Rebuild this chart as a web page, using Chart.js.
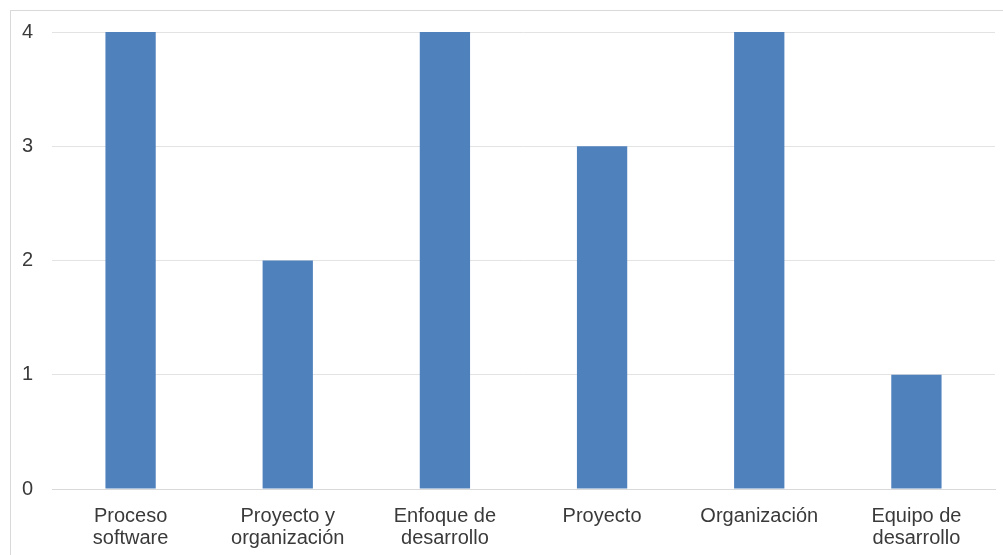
<!DOCTYPE html>
<html>
<head>
<meta charset="utf-8">
<script src="https://cdn.jsdelivr.net/npm/chart.js"></script>
<style>
  html, body { margin: 0; padding: 0; background: #fff; }
  #wrap { position: relative; width: 1003px; height: 555px; overflow: hidden; }
  #frame { position: absolute; left: 10px; top: 10px; width: 1010px; height: 560px; border: 1px solid #d9d9d9; box-sizing: border-box; }
  canvas { position: absolute; left: 0; top: 0; }
</style>
</head>
<body>
<div id="wrap">
  <div id="frame"></div>
  <canvas id="chart" width="1003" height="555"></canvas>
</div>
<script>
// categories and counts
const categories = [
  ['Proceso', 'software'],
  ['Proyecto y', 'organización'],
  ['Enfoque de', 'desarrollo'],
  'Proyecto',
  'Organización',
  ['Equipo de', 'desarrollo']
];
const counts = [4, 2, 4, 3, 4, 1];
const yTicks = [0, 1, 2, 3, 4];

const ctx = document.getElementById('chart').getContext('2d');
new Chart(ctx, {
  type: 'bar',
  data: {
    labels: categories,
    datasets: [{
      data: counts,
      backgroundColor: '#4f81bd',
      borderWidth: 0,
      categoryPercentage: 1,
      barPercentage: 0.32
    }]
  },
  options: {
    responsive: false,
    animation: false,
    layout: { padding: { top: 32, right: 8, left: 0, bottom: 0 } },
    plugins: { legend: { display: false }, tooltip: { enabled: false } },
    scales: {
      x: {
        grid: { display: false, drawTicks: false },
        border: { color: '#d9d9d9', width: 1 },
        ticks: {
          color: '#3a3a3a',
          font: { family: 'Liberation Sans, Arial, sans-serif', size: 20, lineHeight: 1.08 },
          padding: 17,
          maxRotation: 0,
          autoSkip: false
        },
        afterFit: (s) => { s.height = 66; }
      },
      y: {
        min: 0,
        max: 4,
        afterBuildTicks: (s) => { s.ticks = yTicks.map(v => ({ value: v })); },
        grid: { color: '#e3e3e3', drawTicks: false },
        border: { display: false },
        ticks: {
          color: '#3a3a3a',
          font: { family: 'Liberation Sans, Arial, sans-serif', size: 20 },
          padding: 19
        },
        afterFit: (s) => { s.width = 52; }
      }
    }
  }
});
</script>
</body>
</html>
